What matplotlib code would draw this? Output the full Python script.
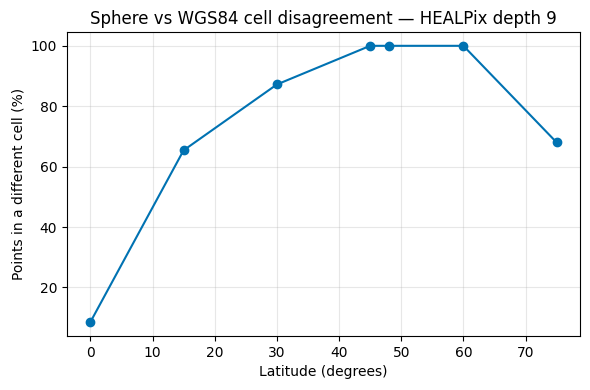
import matplotlib
matplotlib.use("Agg")
import matplotlib.pyplot as plt

latitudes = [0, 15, 30, 45, 48, 60, 75]
pct_different = [8.5, 65.4, 87.2, 100.0, 100.0, 100.0, 68.0]

fig, ax = plt.subplots(figsize=(5.9, 3.9), dpi=100)
ax.plot(latitudes, pct_different, marker="o", color="#0072B2", linewidth=1.5, markersize=6)
ax.set_xlabel("Latitude (degrees)")
ax.set_ylabel("Points in a different cell (%)")
ax.set_title("Sphere vs WGS84 cell disagreement \u2014 HEALPix depth 9")
ax.grid(True, alpha=0.3)
fig.subplots_adjust(left=67/590, right=580/590, top=1-32/390, bottom=1-336/390)
fig.savefig("out.png")
